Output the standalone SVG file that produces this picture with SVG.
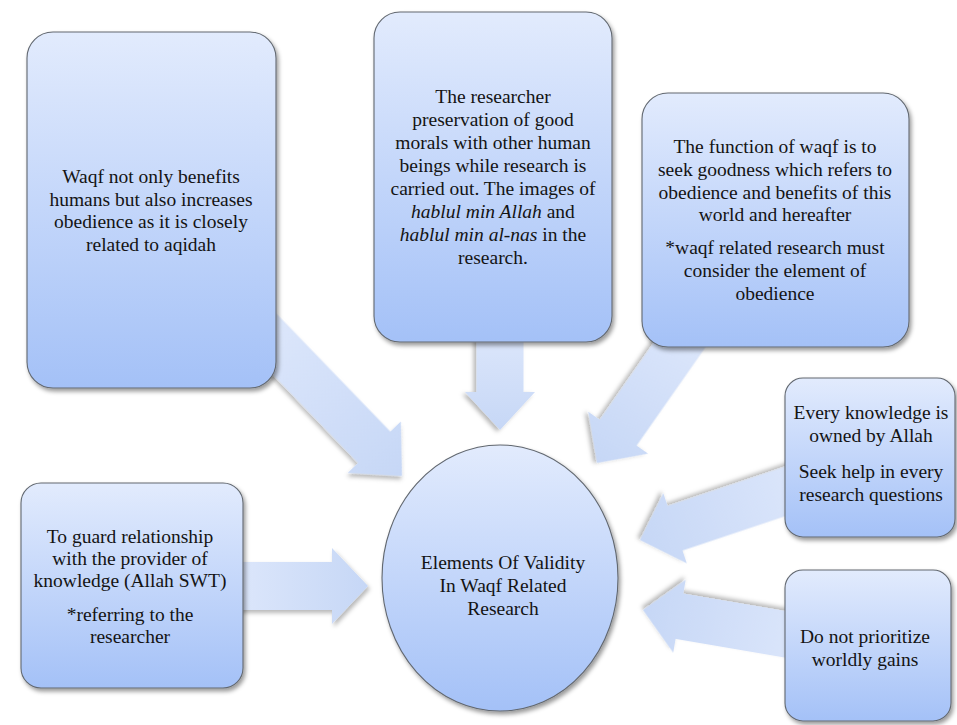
<svg xmlns="http://www.w3.org/2000/svg" width="957" height="725" viewBox="0 0 957 725">
<style>
  .box { fill: url(#boxGrad); stroke: #626870; stroke-width: 1.1; filter: url(#shadow); }
  .arrow { fill: url(#arrowGrad); stroke: none; filter: url(#ashadow); }
  .t { font-family: 'Liberation Serif', 'Times New Roman', Times, Tinos, 'Noto Serif', 'DejaVu Serif', FreeSerif, 'Nimbus Roman', 'Nimbus Roman No9 L', serif; font-size: 19.5px; fill: #141414; text-anchor: middle; }
  .it { font-style: italic; }
</style>
<defs>
  <linearGradient id="boxGrad" x1="0" y1="0" x2="0" y2="1">
    <stop offset="0" stop-color="#e2ebfd"/>
    <stop offset="1" stop-color="#a4c1f7"/>
  </linearGradient>
  <linearGradient id="arrowGrad" x1="0" y1="0" x2="1" y2="0">
    <stop offset="0" stop-color="#dde7fb"/>
    <stop offset="1" stop-color="#c6d7f6"/>
  </linearGradient>
  <filter id="shadow" x="-10%" y="-10%" width="125%" height="125%">
    <feDropShadow dx="2" dy="3" stdDeviation="2.2" flood-color="#000" flood-opacity="0.4"/>
  </filter>
  <filter id="ashadow" x="-15%" y="-15%" width="135%" height="135%">
    <feDropShadow dx="2" dy="3" stdDeviation="2" flood-color="#000" flood-opacity="0.28"/>
  </filter>
</defs>
<rect width="957" height="725" fill="#ffffff"/>

<g id="connectors">
  <polygon class="arrow" transform="translate(402,476) rotate(46)" points="-210,-22.5 -40,-22.5 -40,-37 0,0 -40,37 -40,22.5 -210,22.5"/>
  <polygon class="arrow" transform="translate(500,430) rotate(90)" points="-100,-23.5 -38,-23.5 -38,-35 0,0 -38,35 -38,23.5 -100,23.5"/>
  <polygon class="arrow" transform="translate(597,463) rotate(125)" points="-171,-22.5 -37,-22.5 -37,-36.5 0,0 -37,36.5 -37,22.5 -171,22.5"/>
  <polygon class="arrow" transform="translate(640,540) rotate(161.5)" points="-183,-23.5 -37,-23.5 -37,-37 0,0 -37,37 -37,23.5 -183,23.5"/>
  <polygon class="arrow" transform="translate(643,610) rotate(189.7)" points="-175,-23 -37,-23 -37,-37 0,0 -37,37 -37,23 -175,23"/>
  <polygon class="arrow" transform="translate(368,586)" points="-138,-24 -36,-24 -36,-38 0,0 -36,38 -36,24 -138,24"/>
</g>

<g id="node-waqf-benefits">
  <rect class="box" x="27" y="32" width="249" height="356" rx="26" ry="26"/>
  <text class="t" x="151" y="183">Waqf not only benefits</text>
  <text class="t" x="151" y="205.5">humans but also increases</text>
  <text class="t" x="151" y="228">obedience as it is closely</text>
  <text class="t" x="151" y="250.5">related to aqidah</text>
</g>

<g id="node-researcher-morals">
  <rect class="box" x="374" y="12" width="238" height="330" rx="26" ry="26"/>
  <text class="t" x="493" y="103">The researcher</text>
  <text class="t" x="493" y="126">preservation of good</text>
  <text class="t" x="493" y="149">morals with other human</text>
  <text class="t" x="493" y="172">beings while research is</text>
  <text class="t" x="493" y="195">carried out. The images of</text>
  <text class="t" x="493" y="218"><tspan class="it">hablul min Allah</tspan> and</text>
  <text class="t" x="493" y="241"><tspan class="it">hablul min al-nas</tspan> in the</text>
  <text class="t" x="493" y="264">research.</text>
</g>

<g id="node-function-waqf">
  <rect class="box" x="642" y="93" width="267" height="254" rx="26" ry="26"/>
  <text class="t" x="775" y="153">The function of waqf is to</text>
  <text class="t" x="775" y="176">seek goodness which refers to</text>
  <text class="t" x="775" y="198.5">obedience and benefits of this</text>
  <text class="t" x="775" y="221">world and hereafter</text>
  <text class="t" x="775" y="254">*waqf related research must</text>
  <text class="t" x="775" y="277">consider the element of</text>
  <text class="t" x="775" y="299.5">obedience</text>
</g>

<g id="node-knowledge-allah">
  <rect class="box" x="785" y="378" width="170" height="159" rx="18" ry="18"/>
  <text class="t" x="871" y="419">Every knowledge is</text>
  <text class="t" x="871" y="442">owned by Allah</text>
  <text class="t" x="871" y="478">Seek help in every</text>
  <text class="t" x="871" y="501">research questions</text>
</g>

<g id="node-worldly-gains">
  <rect class="box" x="785" y="570" width="166" height="151" rx="18" ry="18"/>
  <text class="t" x="865" y="643">Do not prioritize</text>
  <text class="t" x="865" y="666">worldly gains</text>
</g>

<g id="node-guard-relationship">
  <rect class="box" x="21" y="483" width="222" height="205" rx="20" ry="20"/>
  <text class="t" x="130" y="543">To guard relationship</text>
  <text class="t" x="130" y="565">with the provider of</text>
  <text class="t" x="130" y="587">knowledge (Allah SWT)</text>
  <text class="t" x="130" y="621">*referring to the</text>
  <text class="t" x="130" y="643">researcher</text>
</g>

<g id="node-center">
  <ellipse class="box" cx="500" cy="578" rx="118" ry="133"/>
  <text class="t" x="503" y="569">Elements Of Validity</text>
  <text class="t" x="503" y="592">In Waqf Related</text>
  <text class="t" x="503" y="615">Research</text>
</g>
</svg>
